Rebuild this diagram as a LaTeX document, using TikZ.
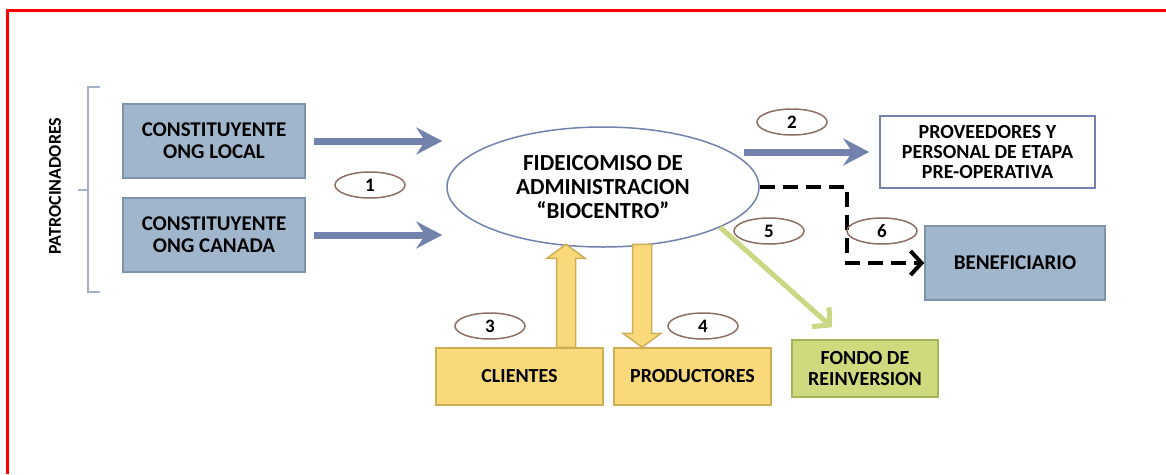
\documentclass[tikz,border=0pt]{standalone}
\usepackage{fontspec}
\setmainfont{Carlito}
\usetikzlibrary{arrows.meta,shapes.geometric}

\definecolor{boxblue}{HTML}{A0B6CC}
\definecolor{edgeblue}{HTML}{7F93AB}
\definecolor{arrowblue}{HTML}{7382AC}
\definecolor{ovalbrown}{HTML}{8C6E64}
\definecolor{boxyellow}{HTML}{FAD97A}
\definecolor{edgeyellow}{HTML}{CDAE55}
\definecolor{boxgreen}{HTML}{CFDA7E}
\definecolor{edgegreen}{HTML}{A5B35A}
\definecolor{arrowgreen}{HTML}{CAD886}
\definecolor{bracegray}{HTML}{A6AEC8}

\tikzset{
  bluebox/.style={draw=edgeblue, fill=boxblue, line width=1.5pt, minimum width=182pt, minimum height=74pt, align=center, font=\fontsize{21}{22}\selectfont\bfseries},
  yellowbox/.style={draw=edgeyellow, fill=boxyellow, line width=1.5pt, minimum height=57pt, align=center, font=\fontsize{20}{22}\selectfont\bfseries},
  numoval/.style={ellipse, draw=ovalbrown, line width=1.5pt, minimum width=70pt, minimum height=26pt, inner sep=0pt, font=\fontsize{19}{20}\selectfont\bfseries},
  flowarrow/.style={draw=arrowblue, line width=7pt, -{Stealth[length=26pt,width=27pt,inset=9pt]}},
  blockarrow/.style={draw=edgeyellow, fill=boxyellow, line width=1.5pt, line join=miter}
}

\begin{document}
\begin{tikzpicture}[x=1pt, y=-1pt]
    \useasboundingbox (0,0) rectangle (1166,474);
    % Frame
    \draw[red, line width=3pt] (1166,10) -- (7,10) -- (7,474);

    % Sponsors
    \draw[bracegray, line width=1.2pt] (100,87) -- (88,87) -- (88,292) -- (100,292);
    \draw[bracegray, line width=1.2pt] (78,190) -- (88,190);
    \node[rotate=90, font=\fontsize{18}{20}\selectfont\bfseries] (patro) at (55,186) {PATROCINADORES};

    \node[bluebox] (local) at (214,141) {CONSTITUYENTE\\ONG LOCAL};
    \node[bluebox] (canada) at (214,235) {CONSTITUYENTE\\ONG CANADA};

    % Trust
    \node[ellipse, draw=arrowblue, line width=1.5pt, fill=white, minimum width=312pt, minimum height=120pt, inner sep=0pt, align=center, font=\fontsize{23}{24}\selectfont\bfseries] (fide) at (603,187) {FIDEICOMISO DE\\ADMINISTRACION\\“BIOCENTRO”};

    % Receivers
    \node[draw=arrowblue, fill=white, line width=1.5pt, minimum width=215pt, minimum height=72pt, align=center, font=\fontsize{20}{20}\selectfont\bfseries] (prov) at (987.5,152) {PROVEEDORES Y\\PERSONAL DE ETAPA\\PRE-OPERATIVA};
    \node[bluebox, minimum width=180pt] (bene) at (1015,263) {BENEFICIARIO};
    \node[draw=edgegreen, fill=boxgreen, line width=1.5pt, minimum width=146pt, minimum height=57pt, inner sep=0pt, align=center, font=\fontsize{20}{21}\selectfont\bfseries] (fondo) at (865,368.5) {FONDO DE\\REINVERSION};
    \node[yellowbox, minimum width=167pt] (clientes) at (519.5,376.5) {CLIENTES};
    \node[yellowbox, minimum width=157pt] (prod) at (692.5,376.5) {PRODUCTORES};

    % Flows
    \draw[flowarrow] ([xshift=8pt]local.east) -- ([xshift=-4pt]local.east -| fide.west);
    \draw[flowarrow] ([xshift=8pt]canada.east) -- ([xshift=-4pt]canada.east -| fide.west);
    \draw[flowarrow] ([xshift=-16pt]fide.east |- prov.west) -- ([xshift=-10pt]prov.west);
    \draw[black, line width=4pt, dash pattern=on 15pt off 8pt, -{Straight Barb[length=11pt,width=24pt]}] (fide.east) -- ++(87,0) |- (bene.west);
    \draw[arrowgreen, line width=5pt, -{Straight Barb[length=12pt,width=26pt]}] (fide.-19) -- ([xshift=-33pt,yshift=12pt]fondo.north);

    % Block arrows
    \path (clientes.north) ++(46.5,0) coordinate (upfoot);
    \draw[blockarrow] (upfoot) ++(-9.5,0) -- ++(0,-89) -- ++(-9.5,0) -- ++(19,-14) -- ++(19,14) -- ++(-9.5,0) -- ++(0,89) -- cycle;
    \path (prod.north) ++(-50.5,0) coordinate (downtip);
    \draw[blockarrow] (downtip) -- ++(-19,-14) -- ++(9.5,0) -- ++(0,-89) -- ++(19,0) -- ++(0,89) -- ++(9.5,0) -- cycle;

    % Step numbers
    \node[numoval] (n1) at (370,185) {1};
    \node[numoval] (n2) at (792,122) {2};
    \node[numoval] (n3) at (490,326) {3};
    \node[numoval] (n4) at (703,326) {4};
    \node[numoval] (n5) at (769,231) {5};
    \node[numoval] (n6) at (882,231) {6};
\end{tikzpicture}
\end{document}
